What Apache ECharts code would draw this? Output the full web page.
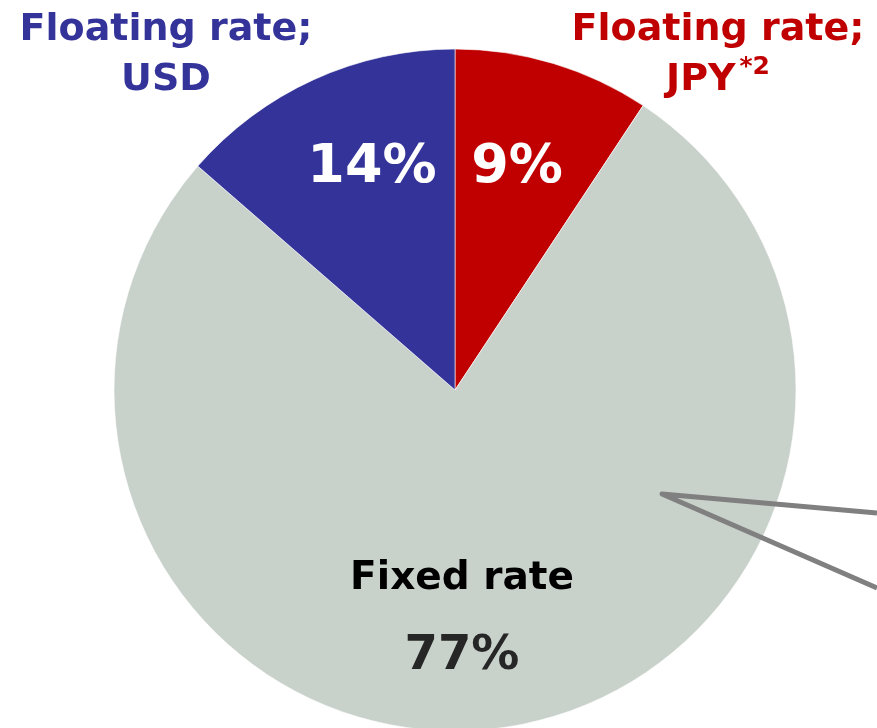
<!DOCTYPE html>
<html>
<head>
<meta charset="utf-8">
<script src="https://cdn.jsdelivr.net/npm/echarts@6/dist/echarts.min.js"></script>
<style>
  html, body { margin: 0; padding: 0; background: #fff; }
  #chart { width: 877px; height: 728px; }
</style>
</head>
<body>
<div id="chart"></div>
<script>
// clockwise from 12 o'clock
var names = ['Floating rate;\nJPY*2', 'Fixed rate', 'Floating rate;\nUSD'];
var values = [9.3, 77.1, 13.6];
var shownPct = ['9%', '77%', '14%'];
var colors = ['#C00000', '#C9D1CB', '#333399'];

var font = 'DejaVu Sans, Verdana, sans-serif';

// where each label sits (inside % and outer names)
var innerPos = [[517, 168], [462, 618], [372, 168]];
var outerPos = [[718, 55], null, [166, 55]];

var chart = echarts.init(document.getElementById('chart'));

var data = names.map(function (n, i) {
  return { name: n, value: values[i], itemStyle: { color: colors[i] } };
});

chart.setOption({
  animation: false,
  series: [
    {
      type: 'pie',
      center: [455, 390],
      radius: [0, 341],
      startAngle: 90,
      clockwise: true,
      silent: true,
      data: data,
      itemStyle: { borderColor: 'rgba(255,255,255,0.6)', borderWidth: 1 },
      labelLine: { show: false },
      label: {
        show: true,
        position: 'inside',
        fontFamily: font,
        fontWeight: 'bold',
        formatter: function (p) {
          if (p.dataIndex === 1) {
            return '{name|Fixed rate}\n{pct|' + shownPct[1] + '}';
          }
          return '{w|' + shownPct[p.dataIndex] + '}';
        },
        rich: {
          w: { color: '#fff', fontSize: 54, fontWeight: 'bold', fontFamily: font },
          name: { color: '#000', fontSize: 39, fontWeight: 'bold', fontFamily: font, lineHeight: 78 },
          pct: { color: '#262626', fontSize: 48, fontWeight: 'bold', fontFamily: font, lineHeight: 78 }
        }
      },
      labelLayout: function (p) {
        var pos = innerPos[p.dataIndex];
        return { x: pos[0], y: pos[1], align: 'center', verticalAlign: 'middle' };
      }
    },
    {
      type: 'pie',
      center: [455, 390],
      radius: [0, 341],
      startAngle: 90,
      clockwise: true,
      silent: true,
      data: data.map(function (d, i) {
        return {
          name: d.name,
          value: d.value,
          itemStyle: { color: 'rgba(0,0,0,0)' },
          label: { show: i !== 1, color: colors[i] }
        };
      }),
      labelLine: { show: false },
      label: {
        position: 'outside',
        overflow: 'none',
        fontFamily: font,
        fontWeight: 'bold',
        fontSize: 38,
        lineHeight: 50,
        align: 'center',
        formatter: function (p) {
          if (p.dataIndex === 0) return 'Floating rate;\nJPY{sup|*2}';
          return p.name;
        },
        rich: {
          sup: { fontSize: 25, fontWeight: 'bold', fontFamily: font, color: colors[0], verticalAlign: 'top', padding: [0, 0, 14, 4] }
        }
      },
      labelLayout: function (p) {
        var pos = outerPos[p.dataIndex];
        if (!pos) return {};
        return { x: pos[0], y: pos[1], align: 'center', verticalAlign: 'middle', width: 400 };
      }
    }
  ],
  graphic: [
    {
      type: 'polyline',
      silent: true,
      z: 100,
      shape: { points: [[877, 513], [662, 494], [877, 588]] },
      style: { stroke: '#808080', lineWidth: 5, fill: null, lineJoin: 'round' }
    }
  ]
});
</script>
</body>
</html>
